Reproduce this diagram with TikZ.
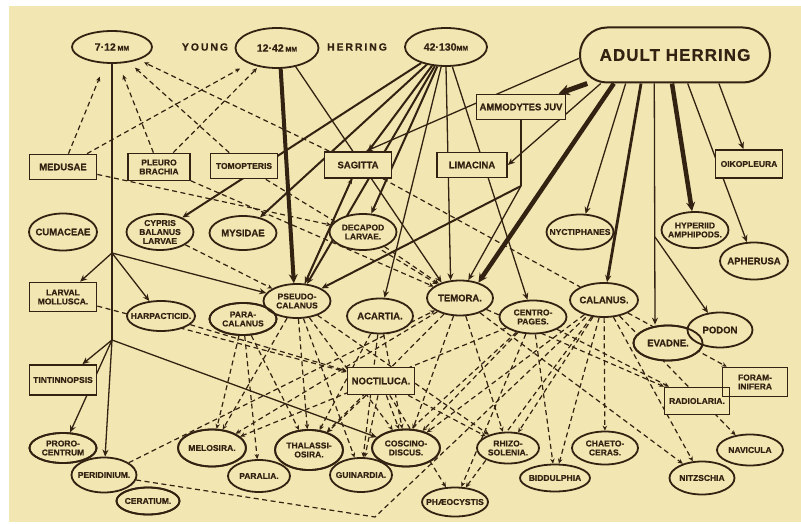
\documentclass[tikz,border=0pt]{standalone}
\usepackage{fontspec}
\newfontfamily\labf{Liberation Sans}[BoldFeatures={FakeBold=0.6}]
\usetikzlibrary{shapes.geometric,arrows.meta}
\definecolor{bgc}{RGB}{242,231,178}
\definecolor{ink}{RGB}{50,34,18}
\newcommand\labtxt{\labf\bfseries\fontsize{9.5}{10}\selectfont}
\newcommand\labsm{\labf\bfseries\fontsize{8.5}{9}\selectfont}
\newcommand\labbig{\labf\bfseries\fontsize{10.5}{10.5}\selectfont}
\newcommand\labmm{\labf\bfseries\fontsize{7}{7}\selectfont}
\pgfdeclarelayer{back}\pgfdeclarelayer{edges}\pgfsetlayers{back,edges,main}
\tikzset{
 ell/.style={ellipse, draw=ink, line width=1.8pt, fill=bgc, inner xsep=-12pt, inner ysep=-3pt, minimum width=67pt, minimum height=34pt, align=center, font=\labtxt, text=ink},
 bx/.style={rectangle, draw=ink, line width=1.7pt, fill=bgc, inner sep=1pt, minimum width=67pt, minimum height=25pt, align=center, font=\labtxt, text=ink},
 ghost/.style={fill=none},
 sl/.style={draw=ink, line width=1.3pt, -{Stealth[length=7pt,width=6pt]}},
 ln/.style={draw=ink, line width=1.3pt},
 md/.style={line width=2pt},
 tk/.style={draw=ink, line width=3.6pt, -{Stealth[length=9pt,width=9pt]}},
 dl/.style={draw=ink, line width=1.2pt, dash pattern=on 5pt off 3.5pt, -{Stealth[length=5pt,width=4.5pt]}},
 dn/.style={draw=ink, line width=1.2pt, dash pattern=on 5pt off 3.5pt},
 word/.style={font=\labbig\addfontfeatures{LetterSpace=18}, text=ink},
}
\begin{document}
\begin{tikzpicture}[x=1pt,y=-1pt]
\useasboundingbox (0,0) rectangle (801,524);
\begin{pgfonlayer}{back}
\fill[white] (0,0) rectangle (801,524);
\fill[bgc] (9,6) rectangle (801,522);
\end{pgfonlayer}

% ---- herring
\node[ell, minimum width=80pt, minimum height=32pt] (y1) at (112,47) {{\labbig 7·12\,}{\labmm MM}};
\node[word] (wy) at (205,47) {YOUNG};
\node[ell, minimum width=83pt, minimum height=40pt] (y2) at (277,48) {{\labbig 12·42\,}{\labmm MM}};
\node[word] (wh) at (357,47) {HERRING};
\node[ell, minimum width=82pt, minimum height=38pt] (y3) at (446,47) {{\labbig 42·130}{\labmm MM}};
\node[draw=ink, line width=2pt, fill=bgc, rounded corners=27pt, minimum width=190pt, minimum height=55pt, font=\labf\bfseries\fontsize{17}{17}\selectfont\addfontfeatures{LetterSpace=6}, text=ink] (ah) at (675,55) {ADULT HERRING};

% ---- boxes
\node[bx, minimum width=89pt] (am) at (521,107) {AMMODYTES JUV};
\node[bx, minimum width=70pt] (li) at (472,165) {LIMACINA};
\node[bx, minimum height=28pt, font=\labsm] (oi) at (749,164) {OIKOPLEURA};
\node[bx] (me) at (63,167) {MEDUSAE};
\node[bx, minimum width=62pt, minimum height=27pt, font=\labsm] (pl) at (159,167) {PLEURO\\BRACHIA};
\node[bx, font=\labsm] (to) at (244,166) {TOMOPTERIS};
\node[bx, minimum height=26pt] (sa) at (358,165) {SAGITTA};
\node[bx, minimum height=29pt, font=\labsm] (lm) at (63,297) {LARVAL\\MOLLUSCA.};
\node[bx, minimum height=30pt, font=\labsm] (ti) at (63,380) {TINTINNOPSIS};
\node[bx, minimum height=27pt] (no) at (381,381) {NOCTILUCA.};
\node[bx, minimum width=65pt, minimum height=29pt, font=\labsm] (fo) at (755,382) {FORAM-\\INIFERA};
\node[bx, minimum width=65pt, minimum height=27pt, font=\labsm] (ra) at (697,401) {RADIOLARIA.};
\node[bx, ghost, minimum width=65pt, minimum height=29pt] at (755,382) {};

% ---- ellipses
\node[ell, minimum width=68pt, minimum height=37pt] (cu) at (63,232) {CUMACEAE};
\node[ell, minimum height=36pt, font=\labsm] (cy) at (160,232) {CYPRIS\\BALANUS\\LARVAE};
\node[ell] (my) at (243,233) {MYSIDAE};
\node[ell, minimum height=36pt, font=\labsm] (de) at (363,232) {DECAPOD\\LARVAE.};
\node[ell, minimum height=35pt, font=\labsm] (ny) at (580,232) {NYCTIPHANES};
\node[ell, minimum height=36pt, font=\labsm] (hy) at (695,230) {HYPERIID\\AMPHIPODS.};
\node[ell, minimum width=68pt, minimum height=37pt] (ap) at (754,261) {APHERUSA};
\node[ell, minimum width=68pt, minimum height=30pt, font=\labsm] (ha) at (161,316) {HARPACTICID.};
\node[ell, minimum height=32pt, font=\labsm] (pa) at (243,319) {PARA-\\CALANUS};
\node[ell, minimum height=34pt, font=\labsm] (ps) at (297,301) {PSEUDO-\\CALANUS};
\node[ell, ghost, minimum height=32pt] at (243,319) {};
\node[ell, minimum width=66pt, minimum height=35pt] (ac) at (380,316) {ACARTIA.};
\node[ell, minimum width=66pt, minimum height=35pt] (te) at (460,298) {TEMORA.};
\node[ell, minimum height=33pt, font=\labsm] (ce) at (533,317) {CENTRO-\\PAGES.};
\node[ell, minimum width=68pt] (ca) at (604,300) {CALANUS.};
\node[ell, minimum width=69pt, minimum height=35pt] (ev) at (668,343) {EVADNE.};
\node[ell, minimum width=65pt, minimum height=35pt] (po) at (720,330) {PODON};
\node[ell, ghost, minimum width=69pt, minimum height=35pt] at (668,343) {};
\node[ell, minimum height=30pt, font=\labsm] (pr) at (63,448) {PRORO-\\CENTRUM};
\node[ell, minimum width=63pt, minimum height=27pt, font=\labsm] (cr) at (148,501) {CERATIUM.};
\node[ell, minimum width=65pt, minimum height=35pt, font=\labsm] (pe) at (104,475) {PERIDINIUM.};
\node[ell, ghost, minimum height=30pt] at (63,448) {};
\node[ell, ghost, minimum width=63pt, minimum height=27pt] at (148,501) {};
\node[ell, minimum width=68pt, minimum height=37pt, font=\labsm] (mel) at (212,448) {MELOSIRA.};
\node[ell, minimum width=62pt, minimum height=32pt, font=\labsm] (par) at (259,476) {PARALIA.};
\node[ell, ghost, minimum width=68pt, minimum height=37pt] at (212,448) {};
\node[ell, minimum width=68pt, minimum height=40pt, font=\labsm] (th) at (309,450) {THALASSI-\\OSIRA.};
\node[ell, minimum width=68pt, minimum height=37pt, font=\labsm] (co) at (406,448) {COSCINO-\\DISCUS.};
\node[ell, minimum width=62pt, minimum height=34pt, font=\labsm] (gu) at (361,475) {GUINARDIA.};
\node[ell, ghost, minimum width=68pt, minimum height=40pt] at (309,450) {};
\node[ell, ghost, minimum width=68pt, minimum height=37pt] at (406,448) {};
\node[ell, minimum width=62pt, minimum height=31pt, font=\labsm] (rh) at (508,448) {RHIZO-\\SOLENIA.};
\node[ell, minimum width=66pt, minimum height=29pt, font=\labsm] (ph) at (455,502) {PHÆOCYSTIS};
\node[ell, minimum width=70pt, minimum height=27pt, font=\labsm] (bi) at (555,478) {BIDDULPHIA};
\node[ell, minimum width=66pt, minimum height=33pt, font=\labsm] (ch) at (605,448) {CHAETO-\\CERAS.};
\node[ell, minimum width=66pt, minimum height=31pt, font=\labsm] (na) at (750,450) {NAVICULA};
\node[ell, minimum width=65pt, minimum height=33pt, font=\labsm] (ni) at (702,478) {NITZSCHIA};

\coordinate (j1) at (112,253);
\coordinate (j2) at (112,340);
\coordinate (amj) at (521,186);
\coordinate (pj) at (655,237);
\coordinate (pk) at (375,517);

\begin{pgfonlayer}{edges}
% young 7-12
\draw[ln] (y1.south) -- (j1) -- (j2);
\draw[sl] (j2) -- (pe);
\draw[sl] (j1) -- (lm);
\draw[sl] (j1) -- (ha);
\draw[sl] (j1) -- (ps);
\draw[sl] (j2) -- (ti);
\draw[sl] (j2) -- (pr);
\draw[sl] (j2) -- (co);
% 12-42
\draw[tk, line width=4pt] (y2.280) -- (ps.100);
\draw[sl] (y2.315) -- (te.140);
% 42-130
\draw[sl, md] (y3) -- (cy);
\draw[sl, md] (y3) -- (my);
\draw[sl, md] (y3) -- (ps);
\draw[sl, md] (y3) -- (sa);
\draw[sl, md] (y3) -- (de);
\draw[sl] (y3.south) -- (te.118);
\draw[sl] (y3) -- (ce);
\draw[sl] (y3) -- (ac);
\draw[sl, md] (sa) -- (ps);
% adult
\draw[sl] (ah.182) -- (sa.60);
\draw[tk, line width=5pt, -{Stealth[length=11pt,width=11pt]}] (ah.198) -- (am);
\draw[sl] (ah.201) -- (li.east);
\draw[tk, line width=4.5pt] (ah.205) -- (te.40);
\draw[sl] (ah.210) -- (ny);
\draw[sl, line width=2.8pt] (ah.220) -- (ca);
\draw[sl] (ah.234) -- (pj |- ev.north);
\draw[sl] (pj) -- (po);
\draw[tk, line width=4.5pt] (ah.264) -- (hy);
\draw[sl] (ah.294) -- (ap);
\draw[sl] (ah.327) -- (oi);
\draw[ln, md] (am.south) -- (amj);
\draw[sl, md] (amj) -- (ps);
\draw[sl] (amj) -- (te.65);

% dashed: food of young herring
\draw[dl, shorten >=14pt] (me) -- (y1);
\draw[dl, shorten >=10pt] (me) -- (y2);
\draw[dl, shorten >=12pt] (pl) -- (y1);
\draw[dl, shorten >=2pt] (pl) -- (y2);
\draw[dl, shorten >=8pt] (to) -- (y1);
\draw[dl, shorten >=6pt] (sa) -- (y1);
% dashed: middle
\draw[dl] (me) -- (de);
\draw[dl] (pl) -- (te);
\draw[dl] (to) -- (te);
\draw[dl] (cy) -- (ps);
\draw[dl] (ps) -- (sa);
\draw[dn] (sa) -- (ca);
\draw[dl] (de) -- (te);
\draw[dl] (lm) -- (no);
\draw[dl] (ha) -- (no);
\draw[dl] (pe) -- (te);
\draw[dn] (pe) -- (pk) -- (ca);
% dashed: to plant plankton
\draw[dl] (ps) -- (mel);
\draw[dl] (ps) -- (th);
\draw[dl] (ps) -- (co);
\draw[dl] (ps) -- (gu);
\draw[dl] (ps) -- (rh);
\draw[dl] (pa) -- (mel);
\draw[dl] (pa) -- (par);
\draw[dl] (pa) -- (th);
\draw[dl] (ac) -- (th);
\draw[dl] (ac) -- (gu);
\draw[dl] (ac) -- (co);
\draw[dl] (te) -- (mel);
\draw[dl] (te) -- (th);
\draw[dl] (te) -- (co);
\draw[dl] (te) -- (rh);
\draw[dl] (te) -- (ni);
\draw[dl] (te) -- (ra);
\draw[dl] (ce) -- (mel);
\draw[dl] (ce) -- (gu);
\draw[dl] (ce) -- (co);
\draw[dl] (ce) -- (ph);
\draw[dl] (ce) -- (bi);
\draw[dl] (ce) -- (ra);
\draw[dl] (ca) -- (co);
\draw[dl] (ca) -- (rh);
\draw[dl] (ca) -- (ph);
\draw[dl] (ca) -- (bi);
\draw[dl] (ca) -- (ch);
\draw[dl] (ca) -- (ni);
\draw[dl] (ca) -- (na);
\draw[dl] (ca) -- (fo);
\draw[dl] (no) -- (th);
\draw[dl] (no) -- (co);
\draw[dl] (no) -- (gu);
\draw[dl] (no) -- (ph);
\draw[dl] (no) -- (rh);
\end{pgfonlayer}
\end{tikzpicture}
\end{document}
